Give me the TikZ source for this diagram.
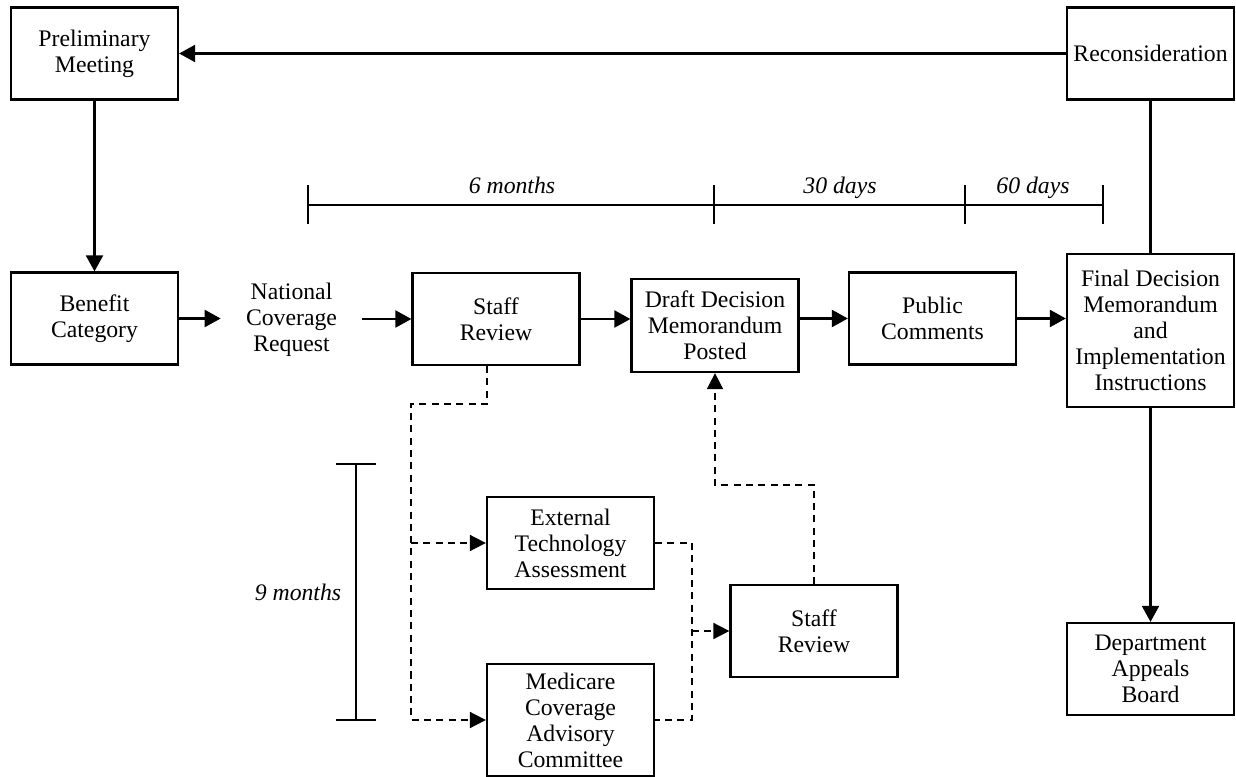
\documentclass[tikz,border=0pt]{standalone}
\usepackage{fontspec}
\setmainfont{Liberation Serif}
\usetikzlibrary{arrows.meta,positioning,calc}

\begin{document}
\begin{tikzpicture}[font=\fontsize{13.5}{14.8}\selectfont,
    box/.style={draw, line width=1.3pt, minimum width=3.34cm, minimum height=1.84cm, align=center, inner sep=2pt},
    flow/.style={line width=1.3pt, -{Triangle[length=0.32cm,width=0.34cm]}},
    dashflow/.style={line width=1pt, dash pattern=on 4pt off 3pt, -{Triangle[length=0.32cm,width=0.32cm]}},
    dashline/.style={line width=1pt, dash pattern=on 4pt off 3pt},
    span/.style={line width=1.3pt},
    spanlabel/.style={anchor=base, font=\fontsize{13.5}{14.8}\selectfont\itshape}]
  \useasboundingbox (0,0) rectangle (24.72,-15.54);

  % top row
  \node[box] (prelim) at (1.89,-1.07) {Preliminary\\Meeting};
  \node[box] (recon) at (23.01,-1.07) {Reconsideration};

  % main row
  \node[box] (benefit) at (1.89,-6.37) {Benefit\\Category};
  \node[align=center, minimum width=2.82cm] (ncr) at (5.83,-6.40) {National\\Coverage\\Request};
  \node[box] (staff) at (9.92,-6.38) {Staff\\Review};
  \node[box, minimum height=1.86cm] (draft) at (14.30,-6.51) {Draft Decision\\Memorandum\\Posted};
  \node[box] (public) at (18.65,-6.37) {Public\\Comments};
  \node[box, minimum height=3.06cm] (final) at (23.01,-6.61) {Final Decision\\Memorandum\\and\\Implementation\\Instructions};

  % lower part
  \node[box] (eta) at (11.41,-10.86) {External\\Technology\\Assessment};
  \node[box, minimum height=2.24cm] (mcac) at (11.41,-14.40) {Medicare\\Coverage\\Advisory\\Committee};
  \node[box] (staff2) at (16.28,-12.62) {Staff\\Review};
  \node[box] (dept) at (23.01,-13.38) {Department\\Appeals\\Board};

  % solid connectors
  \draw[flow] (recon.west) -- (prelim.east);
  \draw[flow] (prelim.south) -- (benefit.north);
  \draw[span] (recon.south) -- (final.north);
  \draw[flow] (final.south) -- (dept.north);
  \draw[flow] (benefit.east) -- (benefit.east -| ncr.west);
  \draw[flow] (ncr.east |- staff.west) -- (staff.west);
  \draw[flow] (staff.east) -- (staff.east -| draft.west);
  \draw[flow] (draft.east |- public.west) -- (public.west);
  \draw[flow] (public.east) -- (public.east -| final.west);

  % dashed connectors
  \coordinate (fork) at (8.22,-8.08);
  \coordinate (join) at (13.84,-10.86);
  \draw[dashflow] ([xshift=-0.18cm]staff.south) |- (fork) |- (mcac.west);
  \draw[dashflow] (fork |- eta.west) -- (eta.west);
  \draw[dashline] (eta.east) -- (join) |- (mcac.east);
  \draw[dashflow] (join |- staff2.west) -- (staff2.west);
  \draw[dashflow] (staff2.north) -- ++(0,1.98) -| (draft.south);

  % time spans
  \coordinate (t0) at (6.16,-4.10);
  \coordinate (t1) at (14.28,-4.10);
  \coordinate (t2) at (19.30,-4.10);
  \coordinate (t3) at (22.06,-4.10);
  \draw[span] (t0) -- (t3);
  \foreach \t in {t0,t1,t2,t3}
    \draw[span] (\t) ++(0,0.39) -- ++(0,-0.78);
  \node[spanlabel] (six) at (10.24,-3.87) {6 months};
  \node[spanlabel] (thirty) at (16.80,-3.87) {30 days};
  \node[spanlabel] (sixty) at (20.66,-3.87) {60 days};

  \draw[span] (7.12,-9.28) -- (7.12,-14.40);
  \draw[span] (6.72,-9.28) -- (7.52,-9.28);
  \draw[span] (6.72,-14.40) -- (7.52,-14.40);
  \node[spanlabel] (nine) at (5.96,-12.0) {9 months};
\end{tikzpicture}
\end{document}
